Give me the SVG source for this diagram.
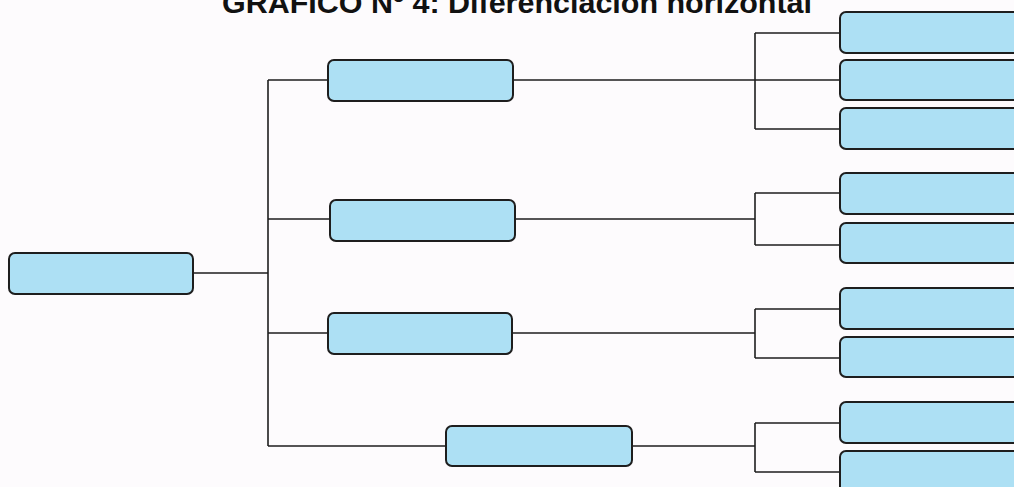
<svg xmlns="http://www.w3.org/2000/svg" width="1014" height="487" viewBox="0 0 1014 487">
<style>
.box{fill:#ade0f4;stroke:#1e1e1e;stroke-width:2}
.ln{fill:none;stroke:#1e1e1e;stroke-width:1.6}
.title{font-family:"Liberation Sans",Arial,sans-serif;font-weight:bold;font-size:30px;fill:#111}
</style>
<rect width="1014" height="487" fill="#fdfbfd"/>
<text class="title" x="517" y="13" text-anchor="middle" textLength="590" lengthAdjust="spacingAndGlyphs">GRAFICO Nº 4: Diferenciación horizontal</text>
<g id="connectors">
<path class="ln" d="M193,273 H268 M268,80 V446 M268,80 H328 M268,219 H330 M268,333 H328 M268,446 H446"/>
<path class="ln" d="M513,80 H840 M755,33 V129 M755,33 H840 M755,129 H840"/>
<path class="ln" d="M515,219 H755 M755,193 V245 M755,193 H840 M755,245 H840"/>
<path class="ln" d="M512,333 H755 M755,309 V358 M755,309 H840 M755,358 H840"/>
<path class="ln" d="M632,446 H755 M755,423 V472 M755,423 H840 M755,472 H840"/>
</g>
<g id="root"><rect class="box" x="9" y="253" width="184" height="41" rx="6"/></g>
<g id="n1"><rect class="box" x="328" y="60" width="185" height="41" rx="6"/></g>
<g id="n2"><rect class="box" x="330" y="200" width="185" height="41" rx="6"/></g>
<g id="n3"><rect class="box" x="328" y="313" width="184" height="41" rx="6"/></g>
<g id="n4"><rect class="box" x="446" y="426" width="186" height="40" rx="6"/></g>
<g id="n1a"><rect class="box" x="840" y="12" width="190" height="41" rx="6"/></g>
<g id="n1b"><rect class="box" x="840" y="60" width="190" height="40" rx="6"/></g>
<g id="n1c"><rect class="box" x="840" y="108" width="190" height="41" rx="6"/></g>
<g id="n2a"><rect class="box" x="840" y="173" width="190" height="41" rx="6"/></g>
<g id="n2b"><rect class="box" x="840" y="223" width="190" height="40" rx="6"/></g>
<g id="n3a"><rect class="box" x="840" y="288" width="190" height="41" rx="6"/></g>
<g id="n3b"><rect class="box" x="840" y="337" width="190" height="40" rx="6"/></g>
<g id="n4a"><rect class="box" x="840" y="402" width="190" height="41" rx="6"/></g>
<g id="n4b"><rect class="box" x="840" y="451" width="190" height="41" rx="6"/></g>
</svg>
